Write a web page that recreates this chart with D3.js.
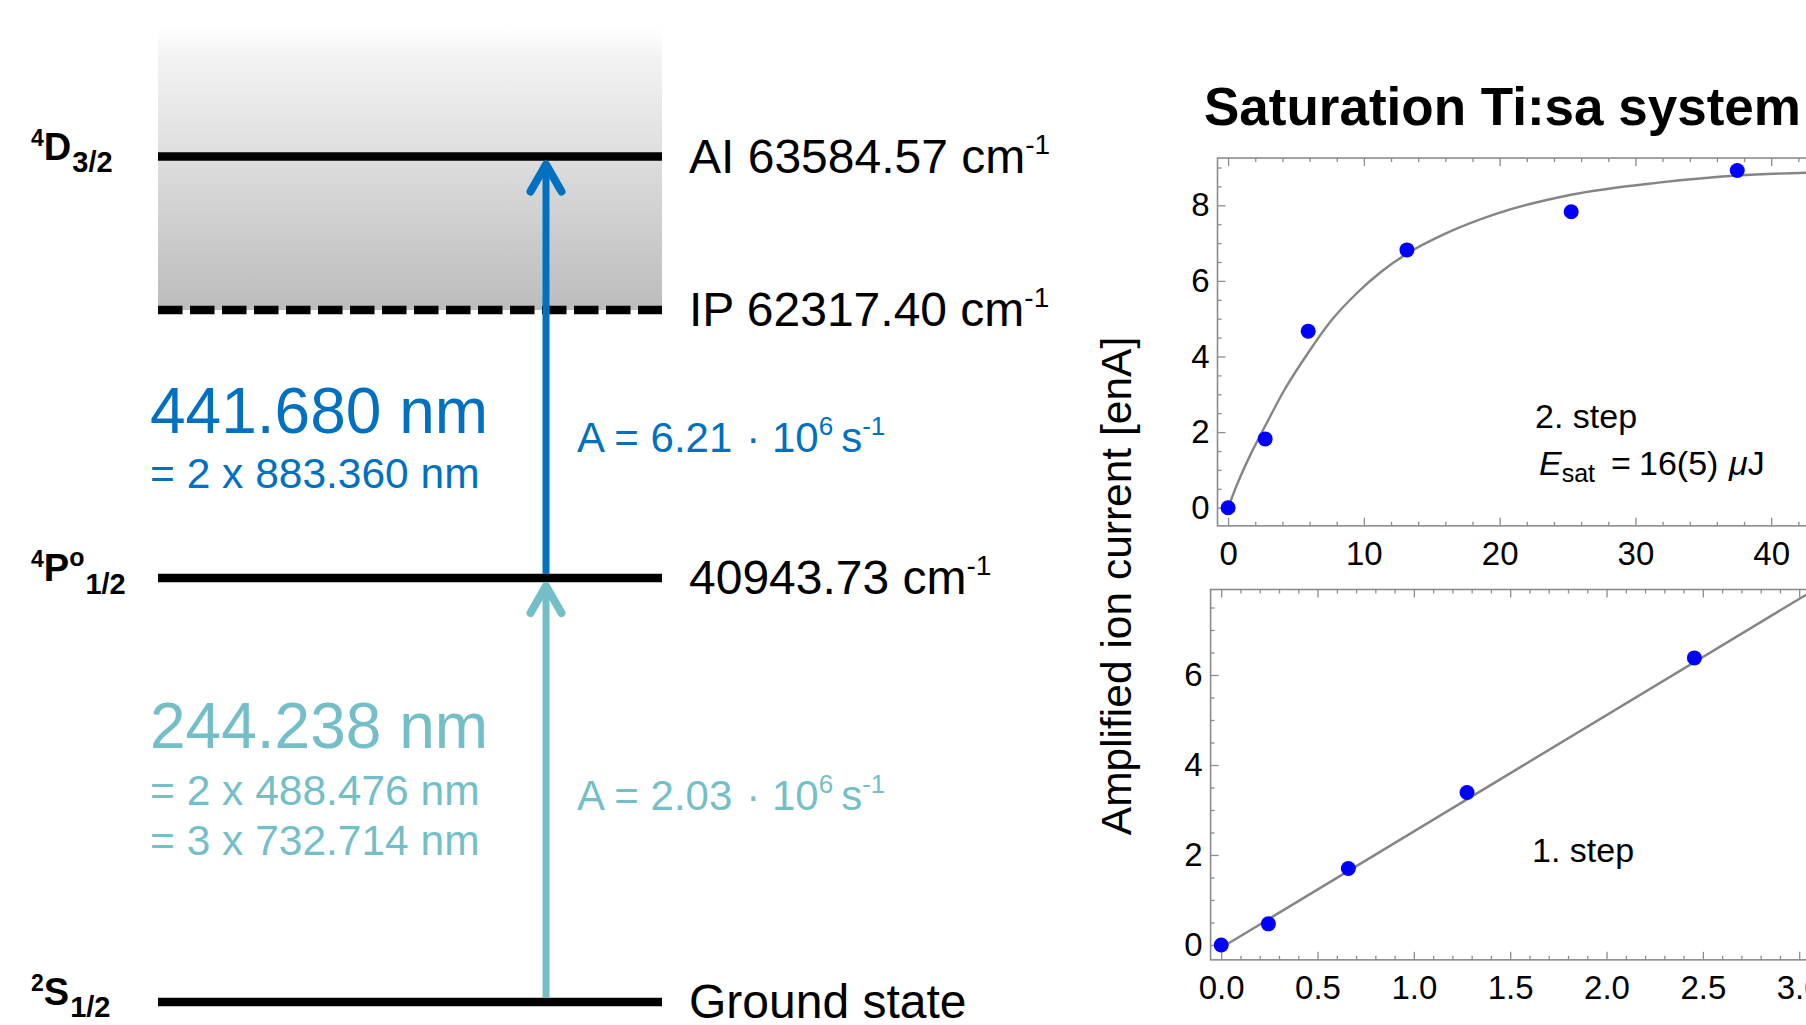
<!DOCTYPE html>
<html>
<head>
<meta charset="utf-8">
<script src="https://cdn.jsdelivr.net/npm/d3@7"></script>
<style>
  body { margin: 0; background: #fff; overflow: hidden; }
  svg { display: block; font-family: "Liberation Sans", Arial, sans-serif; }
</style>
</head>
<body>
<div id="chart"></div>
<script>
// index.html - Ti:sa ionization scheme + saturation curves

const width = 1806;
const height = 1025;

// energy levels (cm-1)
const levelEnergies = [0, 40943.73, 62317.40, 63584.57];
const levelTexts = ["Ground state", "40943.73 cm", "IP 62317.40 cm", "AI 63584.57 cm"];
const levelUnit = [false, true, true, true];
const levelDashed = [false, false, true, false];

// term symbols: [superscript, letter, superscript after, subscript]
const termSup = ["2", "4", "", "4"];
const termLetter = ["S", "P", "", "D"];
const termSup2 = ["", "o", "", ""];
const termSub = ["1/2", "1/2", "", "3/2"];

// 2. step saturation (pulse energy in uJ vs ion current in enA)
const step2Energy = [0, 2.73, 5.90, 13.17, 25.27, 37.5];
const step2Current = [0, 1.82, 4.67, 6.82, 7.83, 8.92];
// fitted curve
const fit2Energy = [0, 0.69, 1.71, 2.73, 4.09, 5.9, 7.6, 9.55, 11.3, 13.17, 16, 19.78, 25.27, 31.7, 37.5, 42.6];
const fit2Current = [0, 0.64, 1.45, 2.16, 3.08, 4.1, 4.95, 5.7, 6.25, 6.72, 7.25, 7.78, 8.28, 8.6, 8.79, 8.86];

// 1. step (linear)
const step1Energy = [0, 0.245, 0.66, 1.276, 2.456];
const step1Current = [0, 0.47, 1.70, 3.39, 6.38];
const fit1Energy = [0, 3.05];
const fit1Current = [-0.06, 7.82];

const svg = d3.select("#chart").append("svg")
    .attr("width", width)
    .attr("height", height);

const blue = "#0070c0";
const teal = "#74bfc7";

// ---------------- level scheme ----------------
const yLevel = d3.scaleLinear()
    .domain(levelEnergies)
    .range([1002, 578, 310, 156.5]);
const lx1 = 158, lx2 = 662, arrowX = 546;

const defs = svg.append("defs");
const grad = defs.append("linearGradient")
    .attr("id", "cont").attr("x1", 0).attr("y1", 0).attr("x2", 0).attr("y2", 1);
grad.append("stop").attr("offset", 0).attr("stop-color", "#ffffff");
grad.append("stop").attr("offset", 0.1).attr("stop-color", "#f3f3f3");
grad.append("stop").attr("offset", 1).attr("stop-color", "#bcbcbc");

// continuum above IP
svg.append("rect")
    .attr("x", lx1).attr("width", lx2 - lx1)
    .attr("y", 28).attr("height", yLevel(levelEnergies[2]) - 28)
    .attr("fill", "url(#cont)");

// levels
svg.selectAll("line.level")
    .data(levelEnergies)
    .enter()
    .append("line")
    .attr("class", "level")
    .attr("x1", lx1).attr("x2", lx2)
    .attr("y1", d => yLevel(d)).attr("y2", d => yLevel(d))
    .attr("stroke", "#000")
    .attr("stroke-width", 8.5)
    .attr("stroke-dasharray", (d, i) => levelDashed[i] ? "24.5 7.5" : null);

// level energy texts
const lt = svg.selectAll("text.leveltext")
    .data(levelEnergies)
    .enter()
    .append("text")
    .attr("class", "leveltext")
    .attr("x", 689)
    .attr("y", d => yLevel(d) + 16)
    .attr("font-size", 48);
lt.append("tspan").text((d, i) => levelTexts[i]);
lt.filter((d, i) => levelUnit[i]).append("tspan")
    .attr("font-size", 28).attr("dy", -19).text("-1");

// term labels
const tl = svg.selectAll("text.term")
    .data(levelEnergies)
    .enter()
    .filter((d, i) => termLetter[i] !== "")
    .append("text")
    .attr("class", "term")
    .attr("x", 31)
    .attr("y", d => yLevel(d) + 3)
    .attr("font-weight", "bold")
    .attr("font-size", 38);
tl.append("tspan").attr("font-size", 23).attr("dy", -14).text(d => termSup[levelEnergies.indexOf(d)]);
tl.append("tspan").attr("dy", 14).text(d => termLetter[levelEnergies.indexOf(d)]);
tl.append("tspan").attr("font-size", 25).attr("dy", -15)
    .text(d => termSup2[levelEnergies.indexOf(d)]);
tl.append("tspan").attr("font-size", 29)
    .attr("dx", 1)
    .attr("dy", d => termSup2[levelEnergies.indexOf(d)] ? 28 : 12)
    .text(d => termSub[levelEnergies.indexOf(d)]);

// arrows
function arrow(yFrom, yTo, color) {
  svg.append("line")
      .attr("x1", arrowX).attr("x2", arrowX)
      .attr("y1", yFrom).attr("y2", yTo + 4)
      .attr("stroke", color).attr("stroke-width", 7);
  svg.append("polyline")
      .attr("points", [[arrowX - 15.5, yTo + 31], [arrowX, yTo + 4], [arrowX + 15.5, yTo + 31]].join(" "))
      .attr("fill", "none")
      .attr("stroke", color)
      .attr("stroke-width", 8)
      .attr("stroke-linecap", "round")
      .attr("stroke-linejoin", "round");
}
arrow(yLevel(levelEnergies[1]) - 4, yLevel(levelEnergies[3]) + 4, blue);
arrow(yLevel(levelEnergies[0]) - 4, yLevel(levelEnergies[1]) + 4, teal);

// wavelength texts
svg.append("text").attr("x", 150).attr("y", 432.5).attr("font-size", 64)
    .attr("fill", blue).text("441.680 nm");
svg.append("text").attr("x", 150).attr("y", 488).attr("font-size", 42.5)
    .attr("fill", blue).text("= 2 x 883.360 nm");
svg.append("text").attr("x", 150).attr("y", 748).attr("font-size", 64)
    .attr("fill", teal).text("244.238 nm");
svg.append("text").attr("x", 150).attr("y", 805).attr("font-size", 42.5)
    .attr("fill", teal).text("= 2 x 488.476 nm");
svg.append("text").attr("x", 150).attr("y", 855).attr("font-size", 42.5)
    .attr("fill", teal).text("= 3 x 732.714 nm");

function rateText(y, value, color) {
  const t = svg.append("text").attr("x", 577).attr("y", y)
      .attr("font-size", 42).attr("fill", color);
  t.append("tspan").text("A = " + value);
  t.append("tspan").attr("dx", 14).text("\u00b7 10");
  t.append("tspan").attr("font-size", 26).attr("dy", -17).text("6");
  t.append("tspan").attr("dx", 8).attr("dy", 17).text("s");
  t.append("tspan").attr("font-size", 26).attr("dy", -17).text("-1");
}
rateText(451.5, "6.21", blue);
rateText(810, "2.03", teal);

// ---------------- saturation plots ----------------
const frameColor = "#8c8c8c";

function framePlot(cfg) {
  const x = d3.scaleLinear().domain(cfg.xDomain).range(cfg.xRange);
  const y = d3.scaleLinear().domain(cfg.yDomain).range(cfg.yRange);
  const g = svg.append("g");
  const fx0 = x(cfg.xFrame[0]), fx1 = x(cfg.xFrame[1]);
  const fy0 = y(cfg.yFrame[0]), fy1 = y(cfg.yFrame[1]);

  // frame
  g.append("rect")
      .attr("x", fx0).attr("y", fy1)
      .attr("width", fx1 - fx0).attr("height", fy0 - fy1)
      .attr("fill", "none").attr("stroke", frameColor).attr("stroke-width", 1.6);

  const xMajor = d3.range(0, cfg.xFrame[1] + 1e-9, cfg.xStep);
  const xMinor = d3.range(0, cfg.xFrame[1], cfg.xStep / cfg.xSub).filter(v => !xMajor.some(m => Math.abs(m - v) < 1e-6));
  const yMajor = d3.range(0, cfg.yFrame[1] + 1e-9, cfg.yStep);
  const yMinor = d3.range(0, cfg.yFrame[1], cfg.yStep / cfg.ySub)
      .concat(d3.range(-cfg.yStep / cfg.ySub, cfg.yFrame[0], -cfg.yStep / cfg.ySub))
      .filter(v => !yMajor.some(m => Math.abs(m - v) < 1e-6));

  function axisGroup(axis, tx, ty) {
    const a = g.append("g").attr("transform", `translate(${tx},${ty})`).call(axis);
    a.select(".domain").remove();
    a.selectAll(".tick line").attr("stroke", frameColor).attr("stroke-width", 1.3);
    a.selectAll("text").attr("font-size", 33).attr("fill", "#000")
        .attr("font-family", "'Liberation Sans', Arial, sans-serif");
    return a;
  }
  // bottom
  axisGroup(d3.axisBottom(x).tickValues(xMajor).tickSize(-8).tickPadding(16).tickFormat(d3.format(cfg.xFormat)), 0, fy0);
  axisGroup(d3.axisBottom(x).tickValues(xMinor).tickSize(-4).tickFormat(""), 0, fy0);
  // top
  axisGroup(d3.axisTop(x).tickValues(xMajor).tickSize(-8).tickFormat(""), 0, fy1);
  axisGroup(d3.axisTop(x).tickValues(xMinor).tickSize(-4).tickFormat(""), 0, fy1);
  // left
  axisGroup(d3.axisLeft(y).tickValues(yMajor).tickSize(-8).tickPadding(8).tickFormat(d3.format("d")), fx0, 0);
  axisGroup(d3.axisLeft(y).tickValues(yMinor).tickSize(-4).tickFormat(""), fx0, 0);

  // fit line
  const line = d3.line().x(d => x(d[0])).y(d => y(d[1])).curve(d3.curveMonotoneX);
  g.append("path")
      .datum(d3.zip(cfg.fitX, cfg.fitY))
      .attr("d", line)
      .attr("fill", "none")
      .attr("stroke", "#858585")
      .attr("stroke-width", 2.4);

  // points
  g.selectAll("circle")
      .data(d3.zip(cfg.ptX, cfg.ptY))
      .enter()
      .append("circle")
      .attr("cx", d => x(d[0]))
      .attr("cy", d => y(d[1]))
      .attr("r", 7.5)
      .attr("fill", "#0000ff");
  return { x, y };
}

framePlot({
  xDomain: [0, 40], xRange: [1228.1, 1771.2],
  yDomain: [0, 8], yRange: [507.7, 205.3],
  xFrame: [-0.78, 46], yFrame: [-0.48, 9.25],
  xStep: 10, xSub: 5, yStep: 2, ySub: 4, xFormat: "d",
  fitX: fit2Energy, fitY: fit2Current,
  ptX: step2Energy, ptY: step2Current
});

framePlot({
  xDomain: [0, 3], xRange: [1221.2, 1799.2],
  yDomain: [0, 6], yRange: [945, 675],
  xFrame: [-0.055, 3.1], yFrame: [-0.33, 7.9],
  xStep: 0.5, xSub: 5, yStep: 2, ySub: 4, xFormat: ".1f",
  fitX: fit1Energy, fitY: fit1Current,
  ptX: step1Energy, ptY: step1Current
});

// title
svg.append("text").attr("x", 1204).attr("y", 125)
    .attr("font-size", 53).attr("font-weight", "bold")
    .text("Saturation Ti:sa system");

// y label
svg.append("text")
    .attr("transform", "translate(1131,586) rotate(-90)")
    .attr("text-anchor", "middle")
    .attr("font-size", 42.5)
    .text("Amplified ion current [enA]");

// step annotations
svg.append("text").attr("x", 1535).attr("y", 428).attr("font-size", 34).text("2. step");
const es = svg.append("text").attr("y", 475).attr("font-size", 34);
es.append("tspan").attr("x", 1539).attr("font-style", "italic").text("E");
es.append("tspan").attr("font-size", 25).attr("dy", 7).text("sat");
es.append("tspan").attr("x", 1611).attr("dy", -7).text("=");
es.append("tspan").attr("x", 1639).text("16(5)");
es.append("tspan").attr("x", 1729).attr("font-style", "italic").text("\u03bc");
es.append("tspan").text("J");
svg.append("text").attr("x", 1532).attr("y", 862).attr("font-size", 34).text("1. step");
</script>
</body>
</html>
